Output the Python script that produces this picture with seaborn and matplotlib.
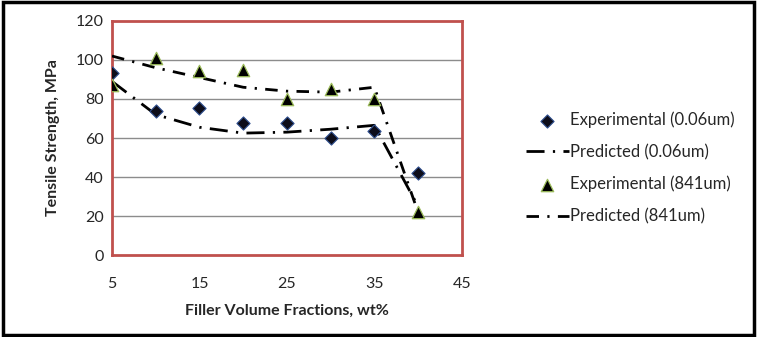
import pandas as pd
import matplotlib.pyplot as plt
import seaborn as sns
from matplotlib.patches import Rectangle

# data
filler = [5, 10, 15, 20, 25, 30, 35, 40]
exp_006 = [93.5, 74, 75.5, 67.5, 67.5, 60, 63.5, 42]
pred_006 = [89, 72, 65.5, 62.5, 63, 64.5, 66.5, 25]
exp_841 = [87, 101, 94.5, 95, 80, 85, 80, 22]
pred_841 = [102, 96, 91, 86, 84, 83.5, 86, 22]

x_ticks = [5, 15, 25, 35, 45]
y_ticks = [0, 20, 40, 60, 80, 100, 120]

df = pd.DataFrame({"filler": filler, "exp_006": exp_006, "pred_006": pred_006,
                   "exp_841": exp_841, "pred_841": pred_841})

sns.set_style("white")
plt.rcParams['font.family'] = ['Lato', 'DejaVu Sans']

fig = plt.figure(figsize=(7.57, 3.37), dpi=100)
ax = fig.add_axes([0.148, 0.243, 0.462, 0.695])

# gridlines
for y in y_ticks[1:-1]:
    ax.axhline(y, color='#8c8c8c', lw=1, zorder=0)

sns.scatterplot(data=df, x="filler", y="exp_006", marker="D", s=45, color="#0d0d1a",
                edgecolor="#2f4f8f", linewidth=0.8, ax=ax, label="Experimental (0.06um)", zorder=4)
sns.lineplot(data=df, x="filler", y="pred_006", color="black", lw=2,
             linestyle=(0, (6.5, 3, 0.8, 3)), ax=ax, label="Predicted (0.06um)", zorder=3)
sns.scatterplot(data=df, x="filler", y="exp_841", marker="^", s=80, color="black",
                edgecolor="#9bbb59", linewidth=0.9, ax=ax, label="Experimental (841um)", zorder=4)
sns.lineplot(data=df, x="filler", y="pred_841", color="black", lw=2,
             linestyle=(0, (4.5, 3, 0.8, 3)), ax=ax, label="Predicted (841um)", zorder=3)

ax.set_xlim(5, 45)
ax.set_ylim(0, 120)
ax.set_xticks(x_ticks)
ax.set_yticks(y_ticks)
ax.tick_params(axis='both', length=0, labelsize=11.5)
ax.tick_params(axis='x', pad=16)
ax.tick_params(axis='y', pad=6)
for sp in ax.spines.values():
    sp.set_color('#c0504d')
    sp.set_linewidth(2)
    sp.set_visible(True)

ax.set_xlabel("Filler Volume Fractions, wt%", fontsize=11.5, fontweight='bold', labelpad=9)
ax.set_ylabel("Tensile Strength, MPa", fontsize=11.5, fontweight='bold', labelpad=11)

handles, labels = ax.get_legend_handles_labels()
ax.legend(handles, labels, loc='center left', bbox_to_anchor=(1.14, 0.372),
          frameon=False, fontsize=12, labelspacing=0.95, handlelength=2.6,
          handletextpad=0.05)

# outer frame
fig.patches.append(Rectangle((0.004, 0.006), 0.992, 0.988, transform=fig.transFigure,
                             fill=False, edgecolor='black', lw=2.5))

fig.savefig("out.png", dpi=100, facecolor='white')
